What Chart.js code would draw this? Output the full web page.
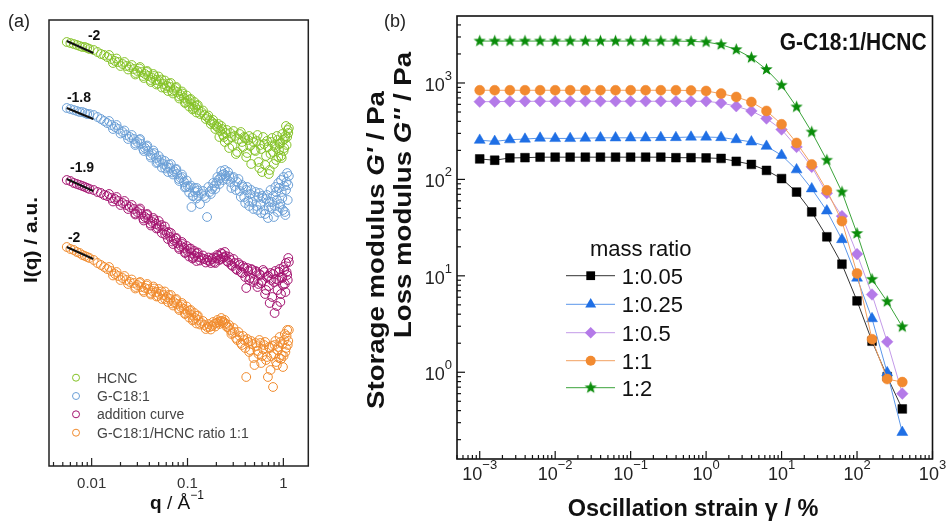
<!DOCTYPE html>
<html>
<head>
<meta charset="utf-8">
<script src="https://cdn.jsdelivr.net/npm/chart.js@4.4.1/dist/chart.umd.min.js"></script>
<style>
  html, body { margin: 0; padding: 0; background: #fff; }
  #wrap { position: relative; width: 949px; height: 525px; overflow: hidden; background: #fff; }
  canvas { position: absolute; top: 0; }
  #saxs { left: 0; }
  #rheo { left: 355px; }
</style>
</head>
<body>
<div id="wrap">
  <canvas id="saxs" width="355" height="525"></canvas>
  <canvas id="rheo" width="594" height="525"></canvas>
</div>
<script>
const SANS = '"Liberation Sans", Arial, Helvetica, sans-serif';

// ---- (a) SAXS curves, intensity in arbitrary units (curves offset) ----
const qValues = [0.0055, 0.006, 0.0065, 0.007, 0.0075, 0.008, 0.0085, 0.009, 0.0095, 0.0105,
  0.0115, 0.0125, 0.0135, 0.0145, 0.016, 0.0175, 0.019, 0.021, 0.023, 0.025,
  0.0275, 0.03, 0.033, 0.036, 0.039, 0.043, 0.047, 0.051, 0.056, 0.061,
  0.066, 0.072, 0.078, 0.085, 0.092, 0.1, 0.11, 0.12, 0.13, 0.14,
  0.15, 0.16, 0.17, 0.18, 0.19, 0.2, 0.21, 0.22, 0.23, 0.24,
  0.25, 0.265, 0.28, 0.295, 0.31, 0.33, 0.35, 0.37, 0.39, 0.41,
  0.43, 0.45, 0.475, 0.5, 0.525, 0.55, 0.575, 0.6, 0.63, 0.66,
  0.69, 0.72, 0.75, 0.78, 0.81, 0.84, 0.87, 0.9, 0.93, 0.96,
  0.99, 1.02, 1.05, 1.08, 1.11, 1.14];

const iHCNC = [42.4, 42.3, 42.2, 42.1, 42.0, 41.9, 41.9, 41.8, 41.7, 41.6,
  41.4, 41.2, 41.1, 40.9, 40.7, 40.5, 40.4, 40.2, 40.0, 39.9,
  39.7, 39.5, 39.4, 39.2, 39.0, 38.8, 38.6, 38.5, 38.2, 38.0,
  37.9, 37.6, 37.4, 37.1, 36.8, 36.5, 36.2, 35.9, 35.6, 35.4,
  35.1, 34.9, 34.6, 34.4, 34.2, 34.0, 34.2, 33.5, 33.7, 32.9,
  33.3, 32.6, 33.3, 32.0, 33.0, 31.4, 33.2, 32.4, 32.9, 30.9,
  32.6, 32.0, 32.8, 31.6, 32.5, 30.4, 32.1, 29.4, 32.2, 31.0,
  31.9, 29.6, 32.4, 31.4, 32.1, 30.6, 32.6, 31.6, 32.3, 30.8,
  32.6, 31.8, 33.0, 32.1, 33.6, 33.8];

const iGC181 = [35.8, 35.7, 35.6, 35.5, 35.4, 35.4, 35.3, 35.2, 35.2, 35.1,
  34.9, 34.7, 34.5, 34.3, 34.1, 33.9, 33.7, 33.4, 33.1, 32.9,
  32.7, 32.4, 32.2, 31.8, 31.5, 31.2, 30.8, 30.5, 30.2, 29.9,
  29.8, 29.5, 29.2, 28.8, 28.4, 28.0, 25.9, 27.4, 27.0, 27.2,
  27.0, 24.9, 27.4, 27.7, 28.0, 28.3, 28.6, 28.8, 29.1, 29.2,
  29.0, 29.4, 28.4, 28.8, 28.0, 28.4, 27.5, 28.1, 26.9, 27.6,
  26.5, 27.2, 26.4, 27.0, 26.0, 26.9, 26.2, 27.0, 25.6, 26.7,
  24.8, 26.4, 25.8, 27.0, 26.0, 27.4, 25.4, 27.8, 26.2, 27.4,
  25.6, 28.0, 25.1, 28.4, 26.6, 29.0];

const iAddition = [28.6, 28.5, 28.3, 28.2, 28.1, 28.0, 27.9, 27.8, 27.7, 27.6,
  27.4, 27.3, 27.1, 27.0, 26.8, 26.7, 26.5, 26.3, 26.1, 25.9,
  25.7, 25.4, 25.2, 24.9, 24.7, 24.4, 24.2, 24.0, 23.6, 23.3,
  22.9, 22.6, 22.3, 22.0, 21.8, 21.5, 21.3, 21.0, 20.9, 20.8,
  20.7, 20.6, 20.5, 20.7, 20.4, 20.8, 21.0, 20.7, 21.2, 20.9,
  21.0, 20.4, 20.6, 20.0, 20.3, 19.6, 20.1, 19.3, 19.8, 17.8,
  19.5, 18.8, 19.6, 18.6, 19.4, 18.2, 19.1, 18.5, 19.4, 17.6,
  19.0, 16.3, 18.6, 19.2, 15.3, 18.7, 17.6, 19.4, 16.4, 18.8,
  18.1, 19.6, 17.4, 19.4, 18.6, 20.4];

const iMixture = [21.9, 21.7, 21.6, 21.4, 21.3, 21.1, 21.0, 20.9, 20.8, 20.6,
  20.3, 20.1, 19.9, 19.7, 19.5, 19.2, 19.0, 18.8, 18.6, 18.4,
  18.3, 18.1, 17.9, 17.8, 17.7, 17.5, 17.4, 17.2, 17.1, 16.9,
  16.7, 16.4, 16.2, 15.9, 15.7, 15.4, 15.1, 14.8, 14.6, 14.3,
  14.1, 13.9, 13.9, 14.0, 14.2, 14.3, 14.4, 14.5, 14.5, 14.4,
  14.2, 13.9, 13.6, 13.3, 13.4, 12.6, 13.0, 12.1, 12.6, 8.9,
  12.4, 11.6, 12.2, 10.1, 12.0, 11.2, 12.3, 11.0, 12.1, 10.6,
  8.9, 11.8, 11.0, 7.9, 12.1, 10.4, 11.6, 10.8, 12.4, 11.1,
  9.9, 12.6, 11.4, 13.0, 12.1, 13.6];

// second set of readings between the first ones (band width, high-q scatter)
const qExtra = [0.0152, 0.0167, 0.0182, 0.02, 0.022, 0.024, 0.0262, 0.0287, 0.0315, 0.0345,
  0.0375, 0.041, 0.045, 0.049, 0.0535, 0.0585, 0.0635, 0.069, 0.075, 0.0815,
  0.0885, 0.096, 0.105, 0.115, 0.125, 0.135, 0.145, 0.155, 0.165, 0.175,
  0.185, 0.195, 0.205, 0.215, 0.225, 0.235, 0.245, 0.257, 0.272, 0.287,
  0.302, 0.32, 0.34, 0.36, 0.38, 0.4, 0.42, 0.44, 0.462, 0.487,
  0.512, 0.537, 0.562, 0.587, 0.615, 0.645, 0.675, 0.705, 0.735, 0.765,
  0.795, 0.825, 0.855, 0.885, 0.915, 0.945, 0.975, 1.005, 1.035, 1.065,
  1.095, 1.125];

const iHCNCExtra = [41.1, 40.3, 40.75, 40.0, 40.4, 39.65, 40.1, 39.3, 39.75, 39.0,
  39.4, 38.6, 39.0, 38.25, 38.65, 37.8, 38.25, 37.45, 37.8, 36.95,
  37.25, 36.35, 36.65, 35.75, 36.05, 35.2, 35.55, 34.7, 35.05, 34.2,
  34.6, 33.7, 33.9, 32.9, 34.0, 33.1, 32.4, 33.6, 31.8, 32.9,
  33.5, 31.2, 32.7, 33.4, 31.9, 32.8, 31.3, 33.0, 30.2, 32.4,
  31.5, 33.1, 29.8, 31.7, 32.9, 30.1, 32.5, 29.2, 31.2, 32.8,
  30.2, 31.9, 33.0, 30.9, 32.2, 31.0, 33.2, 31.5, 32.7, 34.0,
  32.9, 33.3];

const iGC181Extra = [34.5, 33.7, 34.1, 33.25, 33.55, 32.7, 33.1, 32.25, 32.6, 31.7,
  31.95, 31.05, 31.3, 30.35, 30.65, 29.75, 30.15, 29.35, 29.65, 28.7,
  28.9, 27.9, 27.9, 27.0, 27.8, 26.2, 27.5, 26.8, 27.9, 27.2,
  28.3, 27.7, 28.9, 28.2, 29.5, 28.6, 29.6, 28.7, 29.0, 27.8,
  28.9, 27.6, 28.7, 26.9, 27.9, 26.3, 27.9, 26.0, 27.6, 25.7,
  27.4, 25.6, 27.3, 25.3, 26.8, 25.2, 27.1, 25.9, 27.6, 26.4,
  24.9, 27.9, 26.6, 28.3, 25.9, 28.6, 26.8, 28.9, 25.4, 27.6,
  29.3, 28.1];

const iAdditionExtra = [27.2, 26.45, 26.9, 26.1, 26.5, 25.7, 26.1, 25.25, 25.6, 24.75,
  25.1, 24.25, 24.6, 23.8, 24.1, 23.15, 23.4, 22.45, 22.75, 21.85,
  22.2, 21.35, 21.7, 20.85, 21.25, 20.55, 21.05, 20.35, 20.85, 20.3,
  20.85, 20.3, 21.1, 20.6, 21.3, 20.8, 21.4, 20.5, 20.9, 20.1,
  20.7, 19.7, 20.3, 19.4, 20.0, 18.9, 19.8, 18.6, 19.7, 18.4,
  19.5, 17.9, 19.2, 18.3, 19.6, 17.2, 18.9, 18.0, 19.3, 16.9,
  18.4, 19.5, 16.0, 18.6, 19.7, 17.2, 18.9, 19.9, 18.2, 20.3,
  19.1, 20.8];

const iMixtureExtra = [19.9, 19.05, 19.4, 18.6, 19.0, 18.2, 18.65, 17.9, 18.3, 17.55,
  18.05, 17.3, 17.75, 17.0, 17.45, 16.7, 17.1, 16.25, 16.6, 15.75,
  16.1, 15.25, 15.55, 14.65, 15.0, 14.15, 14.5, 13.7, 14.2, 13.65,
  14.4, 13.95, 14.6, 14.2, 14.8, 14.3, 14.6, 13.9, 14.1, 13.2,
  13.8, 12.8, 13.4, 12.3, 13.0, 11.8, 12.7, 11.4, 12.5, 10.8,
  12.3, 11.5, 12.6, 10.3, 11.7, 12.4, 10.9, 11.9, 9.6, 12.0,
  11.2, 12.5, 10.1, 11.9, 12.9, 10.7, 12.2, 11.0, 13.2, 11.8,
  13.6, 12.5];

// third set: upper/lower edge of the dense band at mid q
const qBand = [0.0285, 0.032, 0.035, 0.038, 0.0415, 0.044, 0.0475, 0.05, 0.054, 0.058,
  0.0625, 0.067, 0.0705, 0.0765, 0.082, 0.0875, 0.094, 0.098, 0.104, 0.108,
  0.113, 0.118, 0.124, 0.128];
const iHCNCBand = [39.15, 39.9, 38.8, 39.5, 38.4, 39.2, 38.15, 38.95, 37.85, 38.55,
  37.5, 38.3, 37.25, 37.9, 36.75, 37.45, 36.3, 37.05, 35.95, 36.7,
  35.65, 36.4, 35.35, 36.1];
const iGC181Band = [32.1, 32.7, 31.5, 32.05, 30.85, 31.55, 30.3, 31.0, 29.85, 30.5,
  29.4, 30.2, 29.15, 29.7, 28.5, 29.15, 27.85, 28.55, 27.35, 28.05,
  27.0, 27.8, 26.75, 27.55];
const iAdditionBand = [25.15, 25.75, 24.55, 25.2, 24.05, 24.8, 23.75, 24.5, 23.3, 23.95,
  22.7, 23.3, 22.2, 22.8, 21.7, 22.4, 21.3, 22.0, 20.95, 21.75,
  20.75, 21.5, 20.5, 21.35];
const iMixtureBand = [17.75, 18.4, 17.4, 18.2, 17.15, 17.95, 16.95, 17.7, 16.7, 17.45,
  16.4, 17.1, 16.05, 16.7, 15.6, 16.3, 15.2, 15.95, 14.85, 15.6,
  14.55, 15.3, 14.25, 15.05];

// low-q power-law fits
const fitQ = [0.0055, 0.0104];
const fitHCNC = [42.5, 41.3];
const fitGC181 = [35.8, 34.7];
const fitAddition = [28.7, 27.5];
const fitMixture = [21.9, 20.7];
const slopeText = ['-2', '-1.8', '-1.9', '-2'];
const slopeQ = [0.00915, 0.00552, 0.00594, 0.00566];
const slopeI = [42.6, 36.4, 29.4, 22.4];

const saxsNames = ['HCNC', 'G-C18:1', 'addition curve', 'G-C18:1/HCNC ratio 1:1'];
const saxsColors = ['#84c226', '#6b9fd6', '#a3126f', '#f08a2c'];
const qTicks = [0.01, 0.1, 1];
const qTickLabels = ['0.01', '0.1', '1'];

// ---- (b) strain sweep ----
const strain = [0.001, 0.00158, 0.00251, 0.00398, 0.00631, 0.01, 0.0158, 0.0251, 0.0398, 0.0631,
  0.1, 0.158, 0.251, 0.398, 0.631, 1, 1.58, 2.51, 3.98, 6.31,
  10, 15.8, 25.1, 39.8, 63.1, 100, 158, 251, 398];
const g005 = [163, 158, 167, 168, 170, 170, 170, 170, 170, 170, 170, 170, 170, 168, 168,
  167, 165, 154, 143, 124, 102, 74, 46, 25.4, 13.2, 5.5, 2.1, 0.9, 0.416];
const g025 = [255, 248, 258, 262, 268, 266, 266, 268, 270, 270, 270, 270, 272, 272, 275,
  275, 272, 259, 245, 221, 178, 126, 80, 47.2, 23.8, 9.5, 3.6, 0.99, 0.238];
const g05 = [640, 640, 645, 645, 646, 646, 646, 646, 646, 646, 646, 646, 646, 646, 646,
  646, 621, 574, 513, 428, 329, 217, 135, 72, 41.6, 16.8, 6.4, 2.07, 0.60];
const g1 = [840, 840, 840, 840, 840, 840, 840, 840, 840, 840, 840, 840, 840, 840, 835,
  826, 776, 716, 635, 513, 373, 239, 143, 77, 36.9, 10.6, 2.2, 0.85, 0.79];
const g2 = [2720, 2720, 2720, 2720, 2720, 2720, 2720, 2720, 2720, 2720, 2720, 2720, 2720, 2720, 2700,
  2660, 2500, 2220, 1830, 1380, 947, 564, 310, 158, 74, 27.5, 9.2, 5.4, 2.96];
const ratioNames = ['1:0.05', '1:0.25', '1:0.5', '1:1', '1:2'];
const strainExp = [-3, -2, -1, 0, 1, 2, 3];
const modulusExp = [0, 1, 2, 3];

function pts(xs, ys) {
  return xs.map((x, i) => ({ x: x, y: ys[i] }));
}

// draw text pieces (different fonts) one after another
function rich(ctx, parts, x, y, o) {
  o = o || {};
  ctx.save();
  ctx.translate(x, y);
  if (o.rotate) ctx.rotate(o.rotate);
  ctx.scale(o.sx || 1, o.sy || 1);
  ctx.textBaseline = 'alphabetic';
  ctx.textAlign = 'left';
  let w = 0;
  parts.forEach(p => { ctx.font = p.font; w += ctx.measureText(p.t).width; });
  let cx = o.align === 'center' ? -w / 2 : (o.align === 'right' ? -w : 0);
  parts.forEach(p => {
    ctx.font = p.font;
    ctx.fillStyle = p.color || o.color || '#000';
    ctx.fillText(p.t, cx, p.dy || 0);
    cx += ctx.measureText(p.t).width;
  });
  ctx.restore();
}

function pow10(e) {
  return [{ t: '10', font: '18px ' + SANS }, { t: String(e).replace('-', '\u2212'), font: '13px ' + SANS, dy: -11 }];
}

function starImage(color, R) {
  const c = document.createElement('canvas');
  const s = Math.ceil(R * 2 + 2);
  c.width = s; c.height = s;
  const g = c.getContext('2d');
  g.fillStyle = color;
  g.beginPath();
  for (let i = 0; i < 10; i++) {
    const r = i % 2 ? R * 0.42 : R;
    const a = -Math.PI / 2 + i * Math.PI / 5;
    g.lineTo(s / 2 + r * Math.cos(a), s / 2 + r * Math.sin(a));
  }
  g.closePath();
  g.fill();
  return c;
}

function marker(ctx, style, r, color, x, y) {
  if (typeof style !== 'string') {
    ctx.drawImage(style, x - style.width / 2, y - style.height / 2);
    return;
  }
  ctx.fillStyle = color;
  ctx.beginPath();
  if (style === 'rect') {
    const h = r * Math.SQRT1_2;
    ctx.rect(x - h, y - h, 2 * h, 2 * h);
  } else if (style === 'triangle') {
    ctx.moveTo(x, y - r); ctx.lineTo(x + r * 0.866, y + r * 0.5); ctx.lineTo(x - r * 0.866, y + r * 0.5);
    ctx.closePath();
  } else if (style === 'rectRot') {
    ctx.moveTo(x - r, y); ctx.lineTo(x, y - r); ctx.lineTo(x + r, y); ctx.lineTo(x, y + r);
    ctx.closePath();
  } else {
    ctx.arc(x, y, r, 0, Math.PI * 2);
  }
  ctx.fill();
}

// ---------- panel (a) ----------
const saxsDecor = {
  id: 'saxsDecor',
  afterDraw(chart) {
    const { ctx, chartArea: a } = chart;
    const x = chart.scales.x, y = chart.scales.y;
    ctx.save();
    ctx.strokeStyle = '#222';
    ctx.lineWidth = 1.5;
    ctx.strokeRect(a.left, a.top, a.right - a.left, a.bottom - a.top);
    ctx.lineWidth = 1.2;
    for (let e = -3; e <= 0; e++) {
      for (let m = 1; m <= 9; m++) {
        const v = m * Math.pow(10, e);
        if (v < x.min || v > x.max) continue;
        const px = x.getPixelForValue(v);
        const len = m === 1 ? 8 : 4;
        ctx.beginPath(); ctx.moveTo(px, a.bottom); ctx.lineTo(px, a.bottom - len); ctx.stroke();
      }
    }
    qTicks.forEach((v, i) => {
      rich(ctx, [{ t: qTickLabels[i], font: '15px ' + SANS }], x.getPixelForValue(v), 488, { align: 'center', color: '#333' });
    });
    // axis titles
    rich(ctx, [{ t: 'q', font: 'bold 19px ' + SANS }, { t: ' / \u00c5', font: '19px ' + SANS },
      { t: '\u22121', font: '12px ' + SANS, dy: -10 }], 177, 509, { align: 'center', color: '#111' });
    rich(ctx, [{ t: 'I(q) / a.u.', font: 'bold 19px ' + SANS }], 37, 240, { align: 'center', rotate: -Math.PI / 2, sx: 1.1, color: '#111' });
    rich(ctx, [{ t: '(a)', font: '18px ' + SANS }], 8, 27, { color: '#222' });
    // power-law slopes
    slopeText.forEach((t, i) => {
      rich(ctx, [{ t: t, font: 'bold 14px ' + SANS }], x.getPixelForValue(slopeQ[i]), y.getPixelForValue(slopeI[i]), { color: '#111' });
    });
    // legend
    const rows = [377.7, 396, 414.3, 432.7];
    saxsNames.forEach((n, i) => {
      ctx.strokeStyle = saxsColors[i];
      ctx.lineWidth = 1;
      ctx.beginPath(); ctx.arc(76, rows[i], 3.5, 0, Math.PI * 2); ctx.stroke();
      rich(ctx, [{ t: n, font: '14px ' + SANS }], 97, rows[i] + 5, { color: '#444' });
    });
    ctx.restore();
  }
};

const saxsSets = [iHCNC, iGC181, iAddition, iMixture];
const saxsExtra = [iHCNCExtra, iGC181Extra, iAdditionExtra, iMixtureExtra];
const saxsBand = [iHCNCBand, iGC181Band, iAdditionBand, iMixtureBand];
const fitSets = [fitHCNC, fitGC181, fitAddition, fitMixture];

new Chart(document.getElementById('saxs'), {
  type: 'scatter',
  data: {
    datasets: fitSets.map(f => ({
      data: pts(fitQ, f), showLine: true, borderColor: '#111', borderWidth: 2, pointRadius: 0
    })).concat(saxsSets.map((s, i) => ({
      label: saxsNames[i],
      data: pts(qValues, s).concat(pts(qExtra, saxsExtra[i]), pts(qBand, saxsBand[i])),
      showLine: false,
      pointStyle: 'circle',
      pointRadius: 4.4,
      pointBorderWidth: 1,
      pointBorderColor: saxsColors[i],
      pointBackgroundColor: 'rgba(0,0,0,0)',
      borderColor: saxsColors[i],
      backgroundColor: 'rgba(0,0,0,0)'
    })))
  },
  options: {
    responsive: false,
    animation: false,
    events: [],
    layout: { padding: { left: 49, top: 20, right: 46.7, bottom: 59 } },
    scales: {
      x: { type: 'logarithmic', min: 0.00359, max: 1.82, display: false },
      y: { type: 'linear', min: 0, max: 44.6, display: false }
    },
    plugins: { legend: { display: false }, tooltip: { enabled: false } }
  },
  plugins: [saxsDecor]
});

// ---------- panel (b) ----------
const rheoSeries = [
  { data: g005, style: 'rect', r: 6.2, color: '#000000', line: '#333333' },
  { data: g025, style: 'triangle', r: 6.3, color: '#1f6fe5', line: '#5b97ea' },
  { data: g05, style: 'rectRot', r: 5.8, color: '#b47ae8', line: '#c39ae8' },
  { data: g1, style: 'circle', r: 5, color: '#f28a30', line: '#f2a060' },
  { data: g2, style: starImage('#0a8c0a', 6.5), r: 6, color: '#0a8c0a', line: '#3aa33a' }
];

const rheoDecor = {
  id: 'rheoDecor',
  afterDraw(chart) {
    const { ctx, chartArea: a } = chart;
    const x = chart.scales.x, y = chart.scales.y;
    ctx.save();
    ctx.strokeStyle = '#111';
    ctx.lineWidth = 1.6;
    ctx.strokeRect(a.left, a.top, a.right - a.left, a.bottom - a.top);
    ctx.lineWidth = 1.2;
    for (let e = -4; e <= 3; e++) {
      for (let m = 1; m <= 9; m++) {
        const v = m * Math.pow(10, e);
        const len = m === 1 ? 8 : 4;
        if (v >= x.min && v <= x.max) {
          const px = x.getPixelForValue(v);
          ctx.beginPath(); ctx.moveTo(px, a.bottom); ctx.lineTo(px, a.bottom - len); ctx.stroke();
        }
        if (v >= y.min && v <= y.max) {
          const py = y.getPixelForValue(v);
          ctx.beginPath(); ctx.moveTo(a.left, py); ctx.lineTo(a.left + len, py); ctx.stroke();
        }
      }
    }
    strainExp.forEach(e => {
      rich(ctx, pow10(e), x.getPixelForValue(Math.pow(10, e)), 480, { align: 'center', color: '#222' });
    });
    modulusExp.forEach(e => {
      rich(ctx, pow10(e), 97, y.getPixelForValue(Math.pow(10, e)) + 8, { align: 'right', color: '#222' });
    });
    // axis titles
    rich(ctx, [{ t: 'Oscillation strain \u03b3 / %', font: 'bold 23.5px ' + SANS }], 338, 516, { align: 'center', color: '#111' });
    rich(ctx, [{ t: 'Storage modulus ', font: 'bold 24px ' + SANS }, { t: "G'", font: 'italic bold 24px ' + SANS },
      { t: ' / Pa', font: 'bold 24px ' + SANS }], 29, 250, { align: 'center', rotate: -Math.PI / 2, sx: 1.15, color: '#111' });
    rich(ctx, [{ t: 'Loss modulus ', font: 'bold 24px ' + SANS }, { t: "G''", font: 'italic bold 24px ' + SANS },
      { t: ' / Pa', font: 'bold 24px ' + SANS }], 56, 195, { align: 'center', rotate: -Math.PI / 2, sx: 1.15, color: '#111' });
    rich(ctx, [{ t: '(b)', font: '18px ' + SANS }], 29, 27, { color: '#222' });
    rich(ctx, [{ t: 'G-C18:1/HCNC', font: 'bold 21px ' + SANS }], 571.7, 50, { align: 'right', sy: 1.1, color: '#111' });
    // legend
    rich(ctx, [{ t: 'mass ratio', font: '22px ' + SANS }], 235, 256, { color: '#111' });
    const rows = [275.7, 304.3, 332.7, 360.7, 387.7];
    rheoSeries.forEach((s, i) => {
      ctx.strokeStyle = s.line;
      ctx.lineWidth = 1;
      ctx.beginPath(); ctx.moveTo(211, rows[i]); ctx.lineTo(260, rows[i]); ctx.stroke();
      marker(ctx, s.style, s.r, s.color, 235.7, rows[i]);
      rich(ctx, [{ t: ratioNames[i], font: '22px ' + SANS }], 266.7, rows[i] + 8, { color: '#111' });
    });
    ctx.restore();
  }
};

new Chart(document.getElementById('rheo'), {
  type: 'scatter',
  data: {
    datasets: rheoSeries.slice().reverse().map((s, i) => ({
      label: ratioNames[rheoSeries.length - 1 - i],
      data: pts(strain, s.data),
      showLine: true,
      borderColor: s.line,
      borderWidth: 1,
      tension: 0,
      fill: false,
      pointStyle: s.style,
      pointRadius: s.r,
      pointBackgroundColor: s.color,
      pointBorderColor: s.color,
      pointBorderWidth: 0.5
    }))
  },
  options: {
    responsive: false,
    animation: false,
    events: [],
    layout: { padding: { left: 102, top: 16, right: 16.5, bottom: 66 } },
    scales: {
      x: { type: 'logarithmic', min: 0.0005, max: 1000, display: false },
      y: { type: 'logarithmic', min: 0.126, max: 4950, display: false }
    },
    plugins: { legend: { display: false }, tooltip: { enabled: false } }
  },
  plugins: [rheoDecor]
});
</script>
</body>
</html>
